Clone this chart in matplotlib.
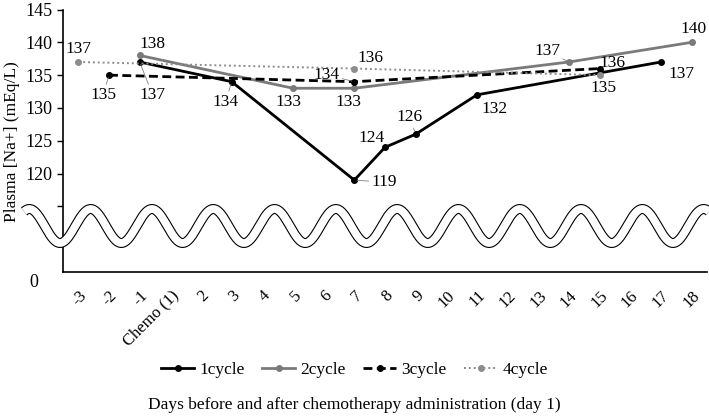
import numpy as np
import matplotlib
matplotlib.use("Agg")
import matplotlib.pyplot as plt

plt.rcParams['font.family'] = ['Liberation Serif', 'DejaVu Serif']

# x categories (days)
days = ['-3', '-2', '-1', 'Chemo (1)', '2', '3', '4', '5', '6', '7', '8', '9',
        '10', '11', '12', '13', '14', '15', '16', '17', '18']

# plasma Na+ per cycle
c1_days = ['-1', '3', '7', '8', '9', '11', '17']
c1_vals = [137, 134, 119, 124, 126, 132, 137]
c2_days = ['-1', '5', '7', '14', '18']
c2_vals = [138, 133, 133, 137, 140]
c3_days = ['-2', '7', '15']
c3_vals = [135, 134, 136]
c4_days = ['-3', '7', '15']
c4_vals = [137, 136, 135]

# label offsets in pixels, (dx, dy, leader?)
c1_offs = [(13, -33, 1), (-6, -20, 1), (30, -2, 1), (-13, 9, 0), (-6, 17, 1), (18, -14, 0), (20, -12, 0)]
c2_offs = [(13, 11, 0), (-5, -14, 0), (-6, -14, 0), (-22, 11, 1), (2, 13, 0)]
c3_offs = [(-6, -20, 1), (-28, 7, 1), (13, 6, 0)]
c4_offs = [(0, 13, 0), (16, 11, 0), (4, -13, 0)]

fig = plt.figure(figsize=(7.09, 4.16), dpi=100)
ax = fig.add_axes([63 / 709, 1 - 272 / 416, 644 / 709, 262.5 / 416])

series = [
    ('1cycle', c1_days, c1_vals, c1_offs, dict(color='black', lw=2.0, ls='-')),
    ('2cycle', c2_days, c2_vals, c2_offs, dict(color='#7a7a7a', lw=2.0, ls='-')),
    ('3cycle', c3_days, c3_vals, c3_offs, dict(color='black', lw=2.0, ls=(0, (3.2, 1.6)))),
    ('4cycle', c4_days, c4_vals, c4_offs, dict(color='#8c8c8c', lw=1.4, ls=(0, (1, 1.5)))),
]

for name, d, v, offs, st in series:
    xs = [days.index(k) for k in d]
    ax.plot(xs, v, marker='o', ms=4, label=name, **st)
    for x, y, (dx, dy, lead) in zip(xs, v, offs):
        ap = dict(arrowstyle='-', color='#808080', lw=0.6, shrinkA=0, shrinkB=2) if lead else None
        ax.annotate(str(y), (x, y), xytext=(dx, dy), textcoords='offset pixels',
                    ha='center', va='center', fontsize=12.5, arrowprops=ap)

ax.set_xlim(-0.5, len(days) - 0.5)
ax.set_ylim(105, 145)
yt = [115, 120, 125, 130, 135, 140, 145]
ax.set_yticks(yt)
ax.set_yticklabels([''] + [str(t) for t in yt[1:]])
ax.tick_params(axis='y', labelsize=13, length=4, width=1)
ax.set_xticks(range(len(days)))
ax.set_xticklabels(days, rotation=45, ha='right', rotation_mode='anchor', fontsize=12)
ax.tick_params(axis='x', length=0, pad=11)
for s in ['top', 'right']:
    ax.spines[s].set_visible(False)
for s in ['left', 'bottom']:
    ax.spines[s].set_linewidth(1.2)
fig.text(12 / 709, 1 - 142 / 416, 'Plasma [Na+] (mEq/L)', rotation=90,
         ha='center', va='center', fontsize=12.5)
ax.text(-0.045, -0.04, '0', transform=ax.transAxes, fontsize=13, ha='center', va='center')

fig.legend(loc='center', bbox_to_anchor=(0.5, 1 - 370 / 416), ncol=4, frameon=False,
           fontsize=12.5, handlelength=1.9, columnspacing=1.0, handletextpad=0.3)
fig.text(0.5, 1 - 405 / 416, 'Days before and after chemotherapy administration (day 1)',
         ha='center', va='center', fontsize=12.5)

# axis-break wave
ov = fig.add_axes([0, 0, 1, 1], zorder=5)
ov.set_xlim(0, 709)
ov.set_ylim(416, 0)
ov.axis('off')
wx = np.linspace(24, 709, 800)
wy = 226 + 17 * np.cos(2 * np.pi * (wx - 60) / 61.3)
ov.plot(wx, wy, color='black', lw=7.2, solid_capstyle='butt')
ov.plot(wx, wy, color='white', lw=5.6, solid_capstyle='butt')

fig.savefig('out.png', dpi=100)
